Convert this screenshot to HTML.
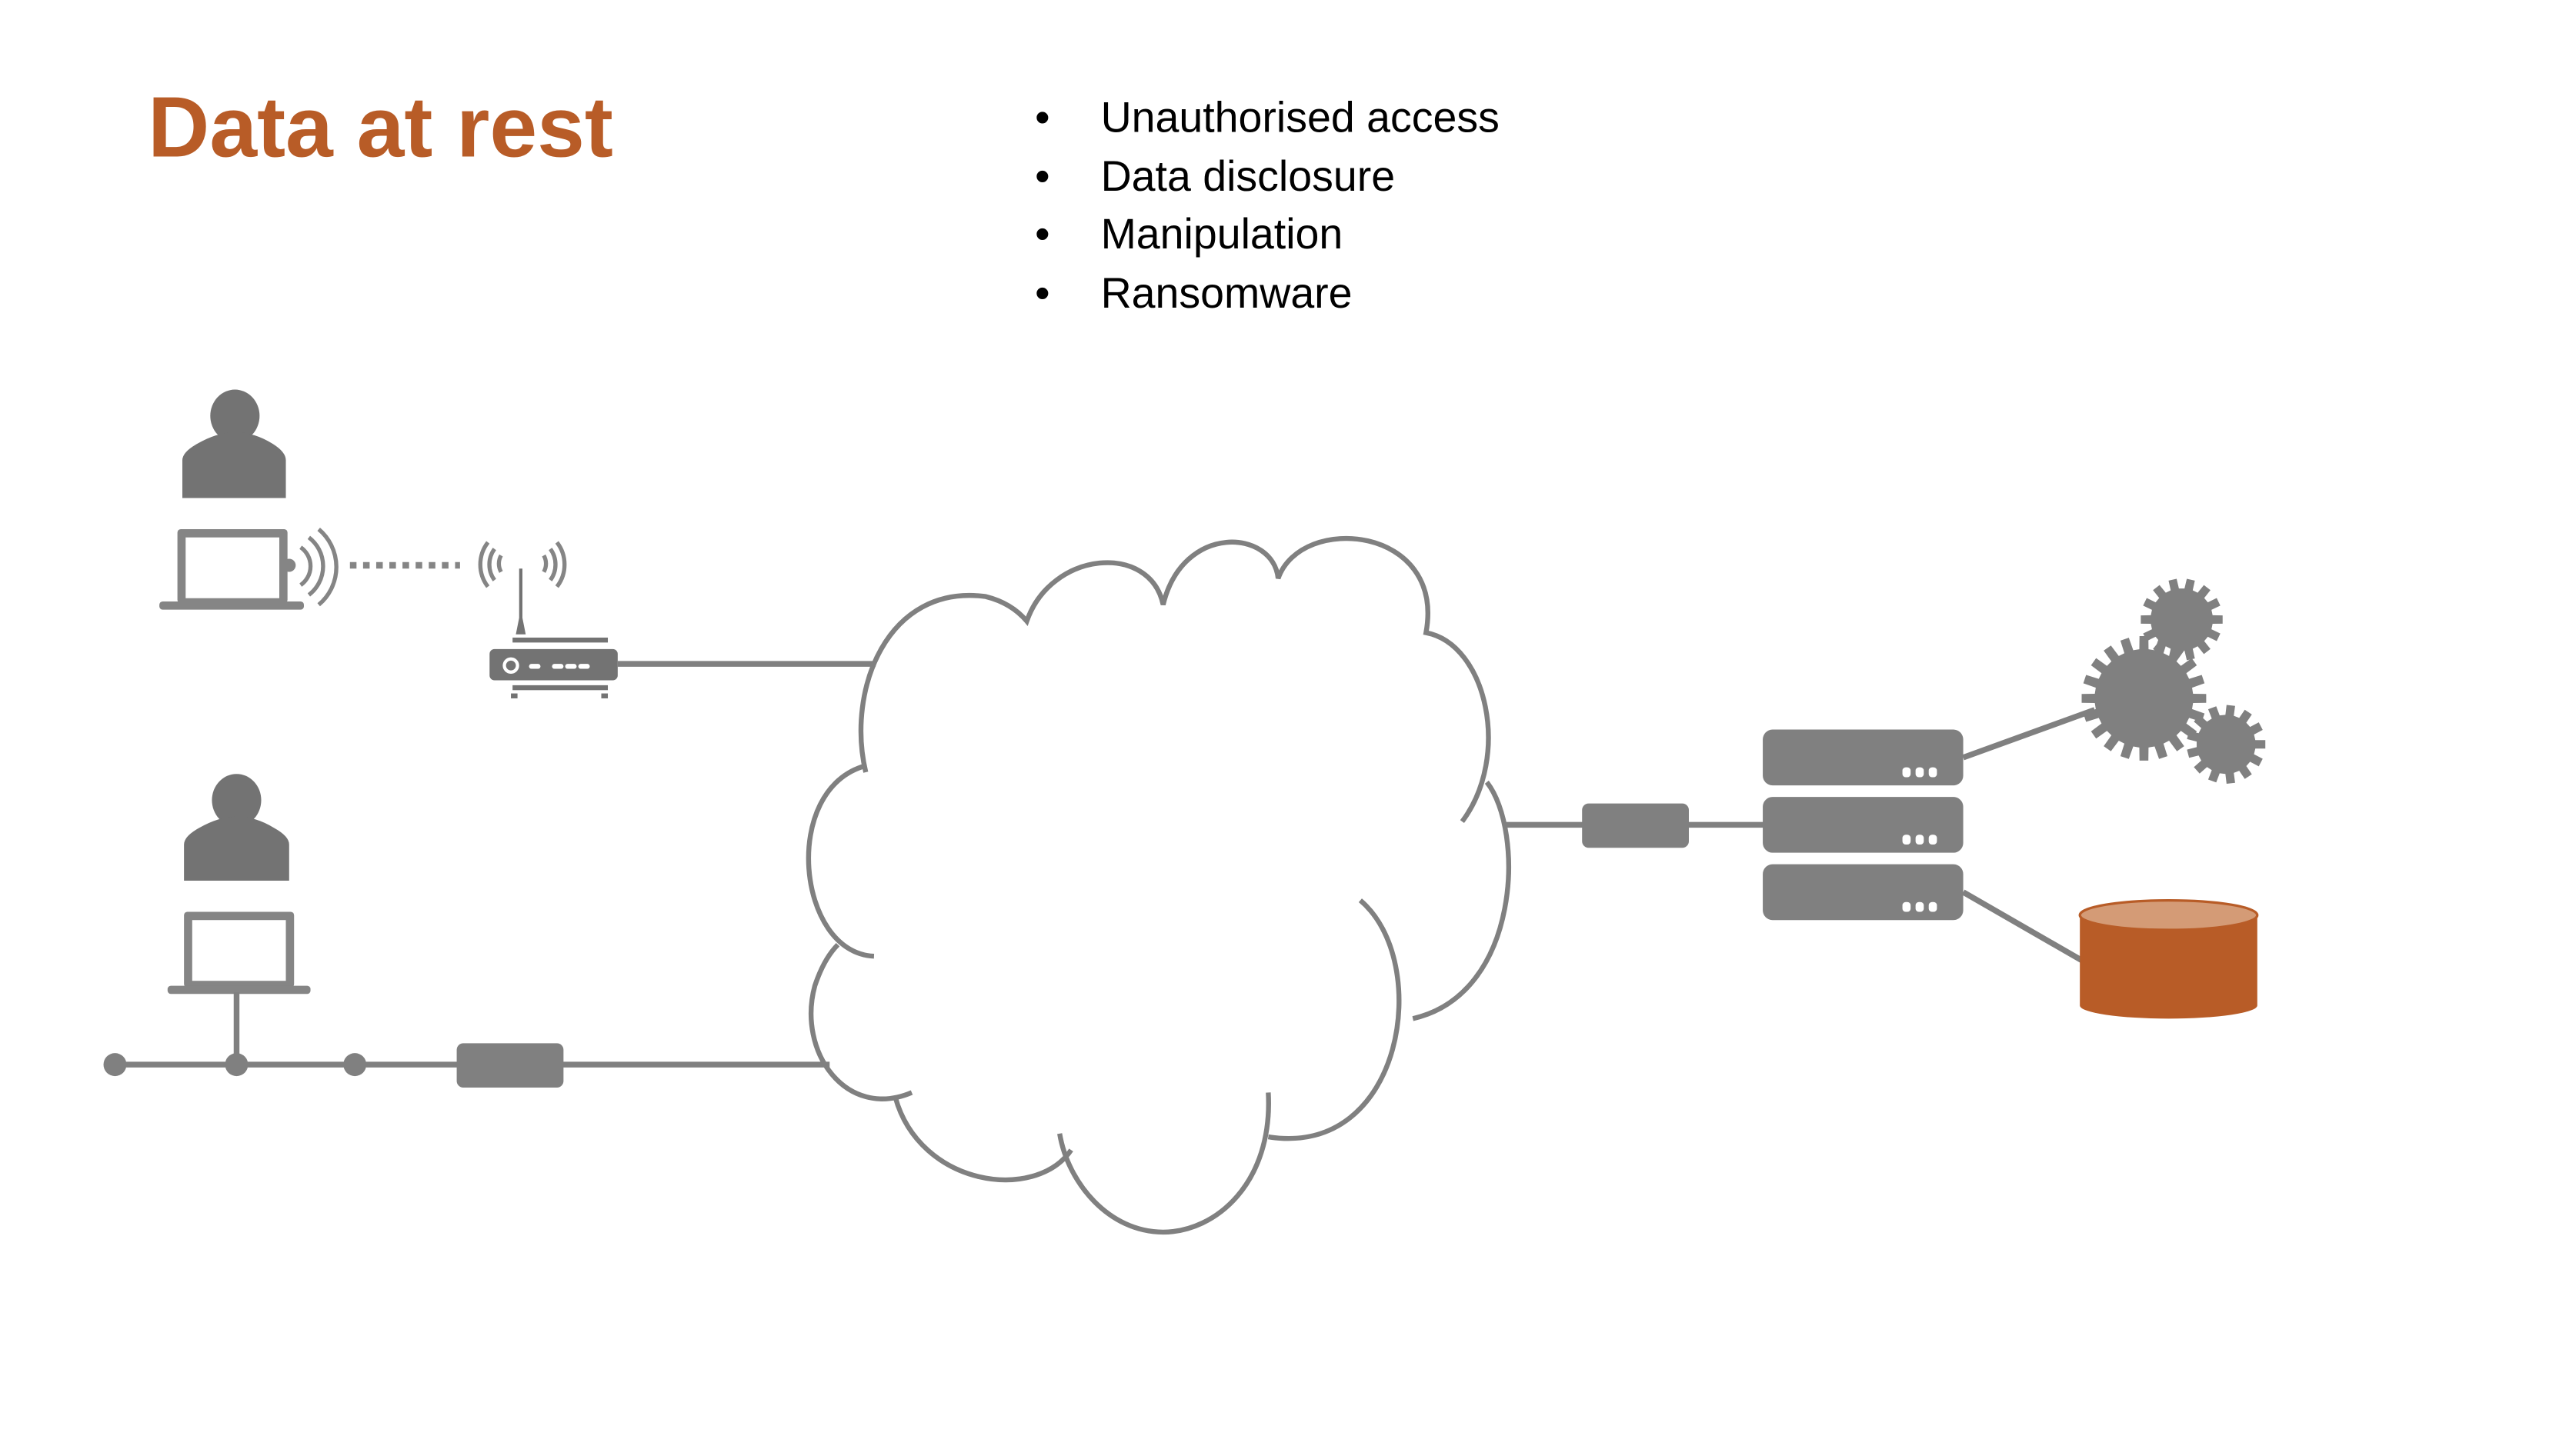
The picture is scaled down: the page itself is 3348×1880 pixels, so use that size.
<!DOCTYPE html>
<html><head><meta charset="utf-8"><style>
html,body{margin:0;padding:0;background:#fff;}
svg{display:block;}
</style></head><body>
<svg id="s" width="3348" height="1880" viewBox="0 0 1568 880" xmlns="http://www.w3.org/2000/svg">
<rect width="1568" height="880" fill="#fff"/>
<text x="90" y="95" font-family="Liberation Sans, sans-serif" font-weight="bold" font-size="52" fill="#B85C27">Data at rest</text>
<g font-family="Liberation Sans, sans-serif" font-size="26" fill="#000">
<text x="630" y="80">•</text><text x="670" y="80">Unauthorised access</text>
<text x="630" y="116">•</text><text x="670" y="116">Data disclosure</text>
<text x="630" y="151">•</text><text x="670" y="151">Manipulation</text>
<text x="630" y="187">•</text><text x="670" y="187">Ransomware</text>
</g>
<g fill="none" stroke="#808080" stroke-width="3">
<path d="M527,470 C515,420 540,355 600,363 C612,366 620,372 625,378 C640,335 700,330 708,368 C720,318 775,322 778,352 C792,312 880,320 868,385 C905,392 920,460 890,500"/>
<path d="M905,476 C928,505 926,605 860,620"/>
<path d="M828,548 C872,585 855,705 772,692"/>
<path d="M772,665 C775,720 740,750 708,750 C675,750 650,720 645,690"/>
<path d="M652,700 C630,732 560,722 545,668"/>
<path d="M555,665 C515,682 485,640 496,600 C500,588 505,580 510,575"/>
<path d="M532,582 C485,580 475,480 527,466"/>
</g>
<g fill="#737373">
<ellipse cx="143" cy="253" rx="15" ry="16"/>
<path d="M111,303 V280 Q111,275 120,270 Q132,263 143,263 Q155,263 166,270 Q174,275 174,280 V303 Z"/>
<ellipse cx="144" cy="487" rx="15" ry="16"/>
<path d="M112,536 V514 Q112,509 121,504 Q133,497 144,497 Q156,497 167,504 Q176,509 176,514 V536 Z"/>
</g>
<g fill="#858585">
<rect x="108" y="322" width="67" height="45" rx="2"/>
<rect x="113" y="327" width="57" height="37" fill="#fff"/>
<rect x="97" y="366" width="88" height="5" rx="2"/>
<circle cx="176" cy="344" r="4"/>
<rect x="112" y="555" width="67" height="46" rx="2"/>
<rect x="117" y="560" width="57" height="37" fill="#fff"/>
<rect x="102" y="600" width="87" height="5" rx="2"/>
</g>
<g fill="none" stroke="#858585" stroke-width="2.5">
<path d="M183,333 A14,14 0 0 1 183,356"/>
<path d="M188,327 A22,22 0 0 1 188,362"/>
<path d="M194,322 A30,30 0 0 1 194,368"/>
<path d="M213,344 H280" stroke-dasharray="4,4" stroke-width="4"/>
<path d="M305,338 A10,10 0 0 0 305,348"/><path d="M301,334 A16,16 0 0 0 301,353"/><path d="M297,330 A22,22 0 0 0 297,357"/>
<path d="M331,338 A10,10 0 0 1 331,348"/><path d="M335,334 A16,16 0 0 1 335,353"/><path d="M339,330 A22,22 0 0 1 339,357"/>
</g>
<g fill="#737373">
<path d="M316,346 h2 v30 l2,10 h-6 l2,-10z"/>
<rect x="312" y="388" width="58" height="3"/>
<rect x="298" y="395" width="78" height="19" rx="3"/>
<rect x="312" y="417" width="58" height="3"/>
<rect x="311" y="422" width="4" height="3"/><rect x="366" y="422" width="4" height="3"/>
</g>
<circle cx="311" cy="405" r="4" fill="none" stroke="#fff" stroke-width="2"/>
<g fill="#fff"><rect x="322" y="404" width="7" height="3" rx="1.5"/><rect x="336" y="404" width="7" height="3" rx="1.5"/><rect x="344" y="404" width="7" height="3" rx="1.5"/><rect x="352" y="404" width="7" height="3" rx="1.5"/></g>
<g stroke="#808080" stroke-width="3.5" fill="none">
<line x1="376" y1="404" x2="533" y2="404"/>
<line x1="70" y1="648" x2="505" y2="648"/>
<line x1="144" y1="604" x2="144" y2="648"/>
<line x1="915" y1="502" x2="1075" y2="502"/>
<line x1="1195" y1="461" x2="1275" y2="432"/>
<line x1="1195" y1="543" x2="1268" y2="585"/>
</g>
<g fill="#808080">
<circle cx="70" cy="648" r="7"/><circle cx="144" cy="648" r="7"/><circle cx="216" cy="648" r="7"/>
<rect x="278" y="635" width="65" height="27" rx="4"/>
<rect x="963" y="489" width="65" height="27" rx="4"/>
<rect x="1073" y="444" width="122" height="34" rx="6"/>
<rect x="1073" y="485" width="122" height="34" rx="6"/>
<rect x="1073" y="526" width="122" height="34" rx="6"/>
</g>
<g fill="#fff">
<rect x="1158" y="467" width="5" height="6" rx="2"/><rect x="1166" y="467" width="5" height="6" rx="2"/><rect x="1174" y="467" width="5" height="6" rx="2"/>
<rect x="1158" y="508" width="5" height="6" rx="2"/><rect x="1166" y="508" width="5" height="6" rx="2"/><rect x="1174" y="508" width="5" height="6" rx="2"/>
<rect x="1158" y="549" width="5" height="6" rx="2"/><rect x="1166" y="549" width="5" height="6" rx="2"/><rect x="1174" y="549" width="5" height="6" rx="2"/>
</g>
<g id="gears" fill="#808080"></g>
<path d="M1266,557 V612 A54,8 0 0 0 1374,612 V557 Z" fill="#B85C27"/>
<ellipse cx="1320" cy="557" rx="54" ry="9" fill="#D49B76" stroke="#B85C27" stroke-width="1.5"/>
</svg>
<script>
function gear(cx,cy,ro,ri,n){var p=[];for(var i=0;i<n;i++){var a=i/n*2*Math.PI,s=Math.PI/n;
var pts=[[ri,a-s*0.6],[ro,a-s*0.45],[ro,a+s*0.45],[ri,a+s*0.6]];
pts.forEach(function(q){p.push((cx+q[0]*Math.cos(q[1])).toFixed(1)+","+(cy+q[0]*Math.sin(q[1])).toFixed(1));});}
var e=document.createElementNS("http://www.w3.org/2000/svg","polygon");e.setAttribute("points",p.join(" "));document.getElementById("gears").appendChild(e);}
gear(1328,377,25,19,14);gear(1305,425,38,30,20);gear(1355,453,24,18,13);
</script>
</body></html>
